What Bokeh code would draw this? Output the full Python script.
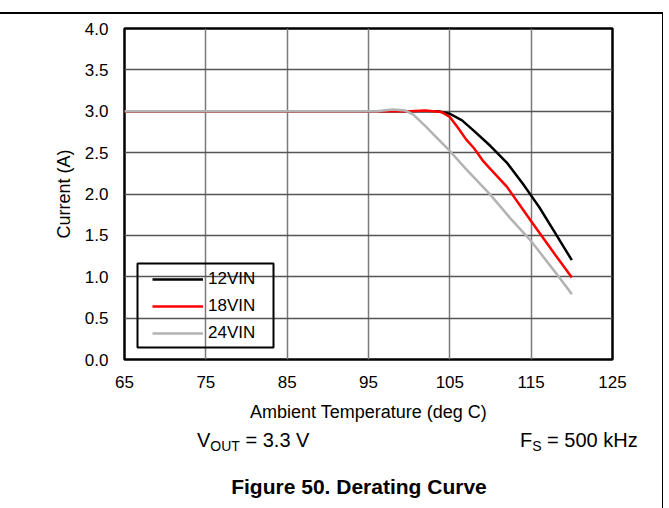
from bokeh.plotting import figure
from bokeh.models import (FixedTicker, PrintfTickFormatter, Legend, LegendItem,
                          BoxAnnotation, Range1d, Spacer, Div)
from bokeh.layouts import column
from bokeh.embed import file_html
from bokeh.resources import INLINE

# ---- data ----
temp_12 = [65, 100, 102, 103.5, 105, 106.5, 108, 110, 112, 114, 115, 116, 118, 120]
cur_12 = [3.0, 3.0, 3.0, 3.0, 2.97, 2.89, 2.76, 2.58, 2.38, 2.12, 1.98, 1.84, 1.52, 1.2]

temp_18 = [65, 100, 102, 104, 105, 106, 107, 108, 109, 110, 112, 115, 118, 120]
cur_18 = [3.0, 3.0, 3.01, 2.99, 2.93, 2.80, 2.66, 2.55, 2.41, 2.30, 2.09, 1.67, 1.26, 0.99]

temp_24 = [65, 96, 98, 99.5, 100.5, 102, 103.5, 105, 107, 110, 112.5, 115, 118, 120]
cur_24 = [3.0, 3.0, 3.02, 3.01, 2.96, 2.82, 2.67, 2.52, 2.30, 1.99, 1.70, 1.43, 1.05, 0.79]

series_names = ["12VIN", "18VIN", "24VIN"]
x_ticks = [65, 75, 85, 95, 105, 115, 125]
y_ticks = [0.0, 0.5, 1.0, 1.5, 2.0, 2.5, 3.0, 3.5, 4.0]

FONT = "Liberation Sans"
FS = "17px"

p = figure(width=663, height=411, output_backend="svg", toolbar_location=None,
           x_range=Range1d(65, 125), y_range=Range1d(0, 4),
           min_border_left=124, min_border_right=50, min_border_top=14,
           min_border_bottom=66)

p.outline_line_color = "black"
p.outline_line_width = 2.5

p.xgrid.grid_line_color = "#7a7a7a"
p.xgrid.grid_line_width = 1.5
p.ygrid.grid_line_color = "#555555"
p.ygrid.grid_line_width = 1.3

for ax in (p.xaxis[0], p.yaxis[0]):
    ax.axis_line_color = None
    ax.major_tick_line_color = None
    ax.minor_tick_line_color = None
    ax.major_tick_out = 0
    ax.major_tick_in = 0
    ax.minor_tick_out = 0
    ax.minor_tick_in = 0
    ax.major_label_text_font = FONT
    ax.major_label_text_font_size = FS
    ax.major_label_text_color = "black"
    ax.axis_label_text_font = FONT
    ax.axis_label_text_font_size = "18px"
    ax.axis_label_text_font_style = "normal"
    ax.axis_label_text_color = "black"

p.xaxis.ticker = FixedTicker(ticks=x_ticks)
p.yaxis.ticker = FixedTicker(ticks=y_ticks)
p.yaxis.formatter = PrintfTickFormatter(format="%.1f")
p.xaxis.axis_label = "Ambient Temperature (deg C)"
p.yaxis.axis_label = "Current (A)"
p.xaxis.major_label_standoff = 16
p.xaxis.axis_label_standoff = 11
p.yaxis.major_label_standoff = 16
p.yaxis.axis_label_standoff = 8

r12 = p.line(temp_12, cur_12, line_color="black", line_width=2.5)
r18 = p.line(temp_18, cur_18, line_color="#ff0000", line_width=2.5)
r24 = p.line(temp_24, cur_24, line_color="#b3b3b3", line_width=2.5)

legend = Legend(items=[LegendItem(label=series_names[0], renderers=[r12]),
                       LegendItem(label=series_names[1], renderers=[r18]),
                       LegendItem(label=series_names[2], renderers=[r24])],
                location=(28, 14), padding=0, margin=0, spacing=3,
                glyph_width=51, glyph_height=24, label_height=24,
                label_standoff=5, label_text_font=FONT,
                label_text_font_size=FS, label_text_color="black",
                border_line_alpha=0, background_fill_alpha=0)
p.add_layout(legend, "center")

# legend frame
p.add_layout(BoxAnnotation(left=13, right=149, top=96, bottom=12,
                           left_units="screen", right_units="screen",
                           top_units="screen", bottom_units="screen",
                           fill_alpha=0, line_color="black", line_width=2,
                           line_alpha=1))

# ---- caption block ----
cond_vout = ("V", "OUT", " = 3.3 V")
cond_fs = ("F", "S", " = 500 kHz")
caption = "Figure 50. Derating Curve"

def cond_html(left, parts):
    main, sub, rest = parts
    return (f'<div style="position:absolute;left:{left}px;top:5px;font-size:20px;'
            f'line-height:20px;white-space:nowrap;">{main}'
            f'<span style="font-size:14px;position:relative;top:4px;">{sub}</span>'
            f'{rest}</div>')

html = (f'<div style="position:relative;width:663px;height:83px;'
        f'font-family:\'Liberation Sans\',Arial,sans-serif;color:black;">'
        + cond_html(197, cond_vout)
        + cond_html(520, cond_fs)
        + f'<div style="position:absolute;left:359px;top:51px;transform:translateX(-50%);'
          f'font-size:21px;line-height:21px;font-weight:bold;white-space:nowrap;">{caption}</div>'
        + '</div>')

t = Div(text=html, width=663, height=83, margin=0, styles={"overflow": "visible"})

inner = column(p, t, width=663, styles={"border-top": "2px solid black",
                                        "border-right": "1.5px solid black"})
layout = column(Spacer(height=12), inner)

open("out.html", "w").write(file_html(layout, INLINE))
